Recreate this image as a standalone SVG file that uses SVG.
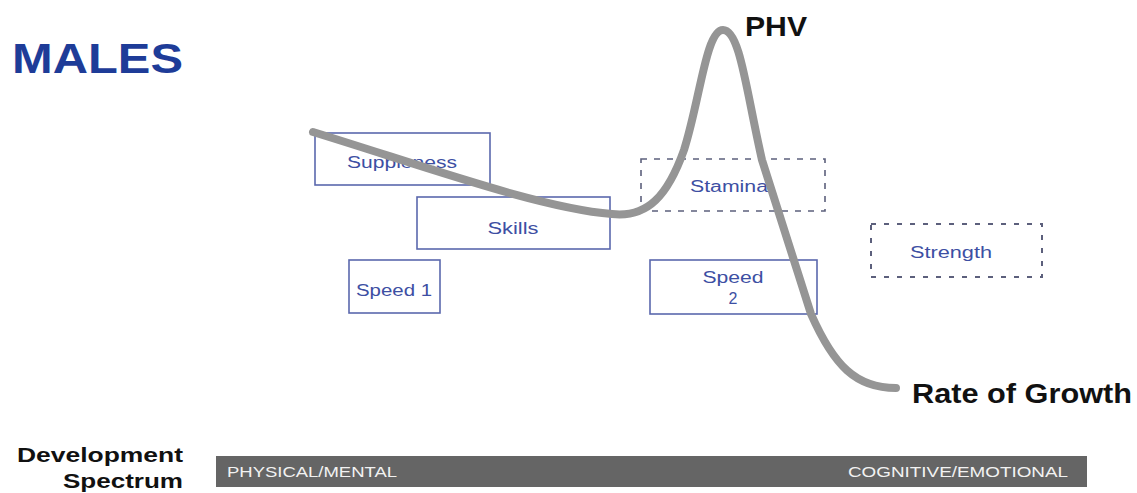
<svg xmlns="http://www.w3.org/2000/svg" width="1137" height="493" viewBox="0 0 1137 493">
  <style>
    .box { fill: none; stroke: #5b68ad; stroke-width: 1.6; }
    .dash { fill: none; stroke: #5c607c; stroke-width: 1.6; stroke-dasharray: 6 7; }
    .dot { fill: none; stroke: #5c607c; stroke-width: 2; stroke-dasharray: 5 8; }
    .lbl { font-family: "Liberation Sans", Arial, sans-serif; font-size: 16px; fill: #3d4fa3; text-anchor: middle; }
    .head { font-family: "Liberation Sans", Arial, sans-serif; font-weight: bold; fill: #111; }
    .bartxt { font-family: "Liberation Sans", Arial, sans-serif; font-size: 15px; fill: #f2f2f2; }
    .growth { fill: none; stroke: #959595; stroke-width: 8; stroke-linecap: round; stroke-linejoin: round; }
  </style>

  <rect width="1137" height="493" fill="#ffffff"/>

  <!-- title -->
  <text id="title" x="12" y="73" font-family="Liberation Sans, Arial, sans-serif" font-weight="bold" font-size="42" fill="#1e3c98" textLength="171" lengthAdjust="spacingAndGlyphs">MALES</text>

  <!-- capacity boxes -->
  <g id="suppleness">
    <rect class="box" x="315" y="133" width="175" height="52"/>
    <text class="lbl" x="402" y="168" textLength="110" lengthAdjust="spacingAndGlyphs">Suppleness</text>
  </g>
  <g id="skills">
    <rect class="box" x="417" y="197" width="193" height="52"/>
    <text class="lbl" x="513" y="234" textLength="51" lengthAdjust="spacingAndGlyphs">Skills</text>
  </g>
  <g id="speed1">
    <rect class="box" x="349" y="260" width="91" height="53"/>
    <text class="lbl" x="394" y="296" textLength="76" lengthAdjust="spacingAndGlyphs">Speed 1</text>
  </g>
  <g id="stamina">
    <rect class="dash" x="641" y="159" width="184" height="52"/>
    <text class="lbl" x="729" y="192" textLength="78" lengthAdjust="spacingAndGlyphs">Stamina</text>
  </g>
  <g id="speed2">
    <rect class="box" x="650" y="260" width="167" height="54"/>
    <text class="lbl" x="733" y="283" textLength="61" lengthAdjust="spacingAndGlyphs">Speed</text>
    <text class="lbl" x="733" y="304">2</text>
  </g>
  <g id="strength">
    <rect class="dot" x="871" y="224" width="171" height="53"/>
    <text class="lbl" x="951" y="258" textLength="82" lengthAdjust="spacingAndGlyphs">Strength</text>
  </g>

  <!-- growth-rate curve -->
  <g id="connectors">
    <path class="growth" d="M313,132 C430,168 540,208 612,214 C648,218 668,195 684,150 C700,100 706,30 723,30 C740,30 746,90 762,160 L811,314 C834,366 856,388 896,388"/>
  </g>

  <g id="phv">
    <text class="head" x="745" y="36" font-size="28" textLength="62" lengthAdjust="spacingAndGlyphs">PHV</text>
  </g>
  <g id="rate-of-growth">
    <text class="head" x="912" y="403" font-size="27" textLength="220" lengthAdjust="spacingAndGlyphs">Rate of Growth</text>
  </g>

  <!-- development spectrum -->
  <g id="spectrum-label">
    <text class="head" x="183" y="462" font-size="21" text-anchor="end" textLength="166" lengthAdjust="spacingAndGlyphs">Development</text>
    <text class="head" x="183" y="488" font-size="21" text-anchor="end" textLength="120" lengthAdjust="spacingAndGlyphs">Spectrum</text>
  </g>
  <g id="spectrum-bar">
    <rect x="216" y="456" width="871" height="31" fill="#656565"/>
    <text class="bartxt" x="227" y="477" textLength="170" lengthAdjust="spacingAndGlyphs">PHYSICAL/MENTAL</text>
    <text class="bartxt" x="848" y="477" textLength="220" lengthAdjust="spacingAndGlyphs">COGNITIVE/EMOTIONAL</text>
  </g>
</svg>
